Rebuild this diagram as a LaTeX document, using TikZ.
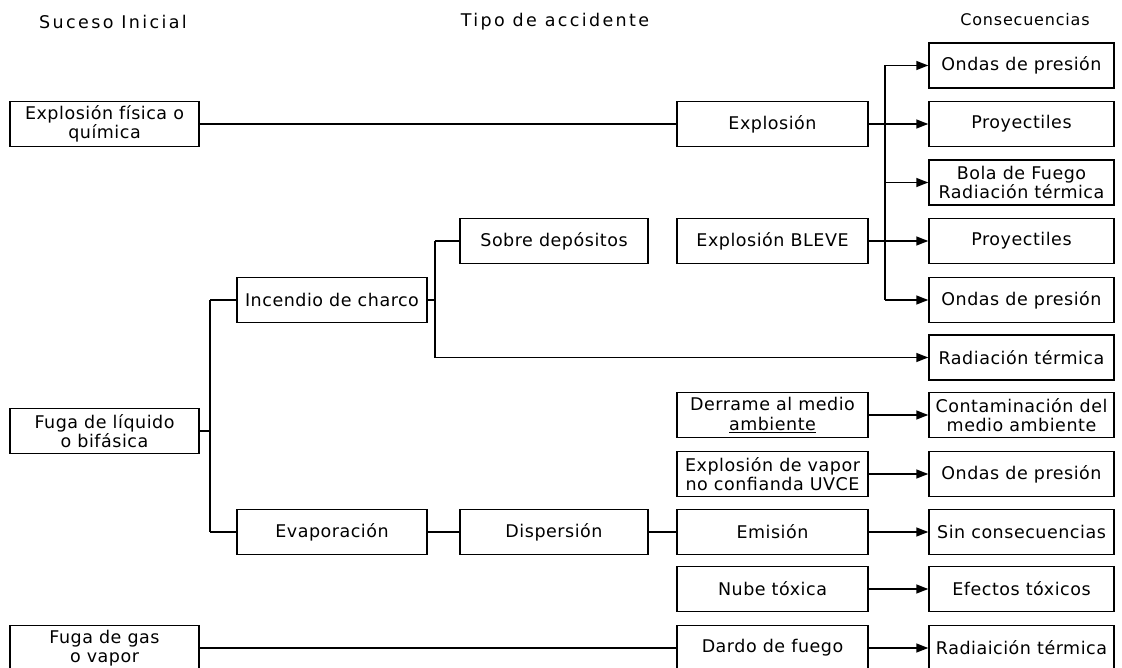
\documentclass[tikz,border=0pt]{standalone}
\usepackage{fontspec}
\setmainfont{DejaVu Sans}[LetterSpace=3]
\newfontfamily\headfont{DejaVu Sans}[LetterSpace=13.5]
\newfontfamily\smallheadfont{DejaVu Sans}[LetterSpace=5]
\usetikzlibrary{arrows.meta}
\begin{document}
\begin{tikzpicture}[x=1pt,y=-1pt,
  every node/.style={font=\fontsize{17.5pt}{19.5pt}\selectfont},
  box/.style={draw, line width=1.5pt, minimum height=45pt, inner sep=0pt, align=center},
  colA/.style={box, minimum width=189pt},
  colB/.style={box, minimum width=190pt},
  colC/.style={box, minimum width=188pt},
  colD/.style={box, minimum width=191pt},
  colE/.style={box, minimum width=185pt},
  head/.style={inner sep=0pt, font=\headfont\fontsize{17.5pt}{20pt}\selectfont},
  link/.style={line width=1.5pt},
  arr/.style={line width=1.5pt, -{Triangle[length=12pt,width=9pt]}}
]
\useasboundingbox (0,0) rectangle (1122,668);

% headers
\node[head] (h1) at (113,22) {Suceso Inicial};
\node[head] (h2) at (555,22) {Tipo de accidente};
\node[head, font=\smallheadfont\fontsize{16pt}{18pt}\selectfont] (h3) at (1025,20) {Consecuencias};

% initial events
\node[colA] (ef) at (104.5,124) {Explosión física o\\química};
\node[colA] (fl) at (104.5,431) {Fuga de líquido\\o bifásica};
\node[colA] (fg) at (104.5,648) {Fuga de gas\\o vapor};

% accident types
\node[colB] (inc) at (332,300) {Incendio de charco};
\node[colB] (eva) at (332,532) {Evaporación};
\node[colC] (sob) at (554,241) {Sobre depósitos};
\node[colC] (dis) at (554,532) {Dispersión};
\node[colD] (exp) at (772.5,124) {Explosión};
\node[colD] (blv) at (772.5,241) {Explosión BLEVE};
\node[colD] (der) at (772.5,415) {Derrame al medio\\\underline{ambiente}};
\node[colD] (uvc) at (772.5,474) {Explosión de vapor\\no confianda UVCE};
\node[colD] (emi) at (772.5,532) {Emisión};
\node[colD] (nub) at (772.5,589) {Nube tóxica};
\node[colD] (dar) at (772.5,648) {Dardo de fuego};

% consequences
\node[colE] (c1) at (1021.5,65.5) {Ondas de presión};
\node[colE] (c2) at (1021.5,124) {Proyectiles};
\node[colE] (c3) at (1021.5,182.5) {Bola de Fuego\\Radiación térmica};
\node[colE] (c4) at (1021.5,241) {Proyectiles};
\node[colE] (c5) at (1021.5,300) {Ondas de presión};
\node[colE] (c6) at (1021.5,357.5) {Radiación térmica};
\node[colE] (c7) at (1021.5,415) {Contaminación del\\medio ambiente};
\node[colE] (c8) at (1021.5,474) {Ondas de presión};
\node[colE] (c9) at (1021.5,532) {Sin consecuencias};
\node[colE] (c10) at (1021.5,589) {Efectos tóxicos};
\node[colE] (c11) at (1021.5,648) {Radiaición térmica};

% bus coordinates
\coordinate (bA) at (210,0);
\coordinate (bB) at (435,0);
\coordinate (bE) at (885,0);

% explosion line
\draw[link] (ef.east) -- (exp.west);
\draw[link] (exp.east) -- (bE |- exp.east);
\draw[link] (blv.east) -- (bE |- blv.east);
\draw[link] (bE |- c1.west) -- (bE |- c5.west);
\foreach \c in {c1,c2,c3,c4,c5}
  \draw[arr] (bE |- \c.west) -- (\c.west);

% liquid leak
\draw[link] (fl.east) -- (bA |- fl.east);
\draw[link] (bA |- inc.west) -- (bA |- eva.west);
\draw[link] (bA |- inc.west) -- (inc.west);
\draw[link] (bA |- eva.west) -- (eva.west);

% pool fire
\draw[link] (inc.east) -- (bB |- inc.east);
\draw[link] (bB |- sob.west) -- (bB |- c6.west);
\draw[link] (bB |- sob.west) -- (sob.west);
\draw[arr] (bB |- c6.west) -- (c6.west);

% evaporation chain
\draw[link] (eva.east) -- (dis.west);
\draw[link] (dis.east) -- (emi.west);

% gas leak
\draw[link] (fg.east) -- (dar.west);

% type -> consequence arrows
\draw[arr] (der.east) -- (c7.west);
\draw[arr] (uvc.east) -- (c8.west);
\draw[arr] (emi.east) -- (c9.west);
\draw[arr] (nub.east) -- (c10.west);
\draw[arr] (dar.east) -- (c11.west);
\end{tikzpicture}
\end{document}
